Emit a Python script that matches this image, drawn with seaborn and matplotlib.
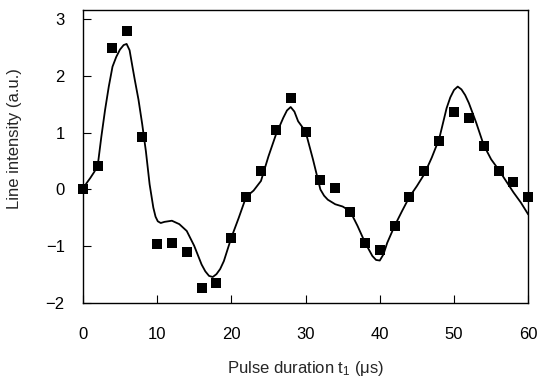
import numpy as np
import pandas as pd
import matplotlib
matplotlib.use('Agg')
import matplotlib.pyplot as plt
import seaborn as sns

# measured points (squares)
pulse_t = [0, 2, 4, 6, 8, 10, 12, 14, 16, 18, 20, 22, 24, 26, 28, 30,
           32, 34, 36, 38, 40, 42, 44, 46, 48, 50, 52, 54, 56, 58, 60]
intensity = [0.0, 0.41, 2.48, 2.79, 0.92, -0.96, -0.94, -1.10, -1.74, -1.64,
             -0.85, -0.13, 0.32, 1.05, 1.61, 1.01, 0.16, 0.02, -0.39, -0.95,
             -1.07, -0.64, -0.13, 0.33, 0.85, 1.37, 1.26, 0.76, 0.33, 0.13,
             -0.13]

# fitted curve
fit_t = [0, 0.5, 1, 1.5, 2, 2.5, 3, 3.5, 4, 4.5, 5, 5.5, 5.9, 6.3, 6.7, 7,
         7.5, 8, 8.5, 9, 9.5, 9.8, 10.1, 10.5, 11, 12, 13, 14, 15, 16, 16.5,
         17, 17.5, 18, 18.5, 19, 20, 21, 22, 23, 24, 25, 26, 27, 27.5, 28,
         28.5, 29, 30, 31, 32, 32.5, 33, 34, 35, 36, 37, 38, 39, 39.5, 40,
         40.5, 41, 42, 43, 44, 45, 46, 47, 48, 49, 49.5, 50, 50.5, 51, 51.5,
         52, 53, 54, 55, 56, 57, 58, 59, 60]
fit_y = [0.0, 0.11, 0.2, 0.3, 0.41, 0.93, 1.40, 1.81, 2.16, 2.33, 2.46, 2.54,
         2.56, 2.45, 2.15, 1.93, 1.58, 1.15, 0.67, 0.09, -0.32, -0.48, -0.56,
         -0.59, -0.57, -0.55, -0.61, -0.73, -0.99, -1.32, -1.44, -1.52, -1.54,
         -1.49, -1.40, -1.26, -0.85, -0.50, -0.13, -0.02, 0.15, 0.58, 0.96,
         1.26, 1.39, 1.45, 1.37, 1.20, 1.02, 0.53, 0.0, -0.11, -0.18, -0.26,
         -0.30, -0.38, -0.64, -0.93, -1.17, -1.24, -1.25, -1.14, -0.94, -0.64,
         -0.38, -0.13, 0.06, 0.27, 0.56, 0.89, 1.43, 1.62, 1.75, 1.81, 1.76,
         1.66, 1.52, 1.17, 0.78, 0.53, 0.35, 0.15, -0.05, -0.23, -0.44]

sns.set_style('ticks')
plt.rcParams['font.family'] = ['Liberation Sans', 'DejaVu Sans']
plt.rcParams['mathtext.default'] = 'regular'
plt.rcParams['font.size'] = 12

fig = plt.figure(figsize=(5.52, 3.78), dpi=100)
ax = fig.add_axes([0.150, 0.198, 0.807, 0.776])

sns.lineplot(x=fit_t, y=fit_y, color='black', linewidth=1.3, ax=ax)
sns.scatterplot(x=pulse_t, y=intensity, marker='s', s=60, color='black',
                edgecolor='black', linewidth=0, ax=ax, zorder=3, clip_on=False)

ax.set_xlim(0, 60)
ax.set_ylim(-2, 3.16)
ax.set_xticks([0, 10, 20, 30, 40, 50, 60])
ax.set_yticks([-2, -1, 0, 1, 2, 3])
ax.tick_params(direction='in', length=6, width=0.8, colors='black',
               labelsize=12)
ax.tick_params(axis='x', pad=17)
ax.tick_params(axis='y', pad=13)
for sp in ax.spines.values():
    sp.set_visible(True)
    sp.set_color('black')
    sp.set_linewidth(1.0)

ax.set_xlabel('Pulse duration t$_1$ (\u03bcs)', fontsize=12)
ax.set_ylabel('Line intensity (a.u.)', fontsize=12)
ax.xaxis.set_label_coords(0.5, -0.19)
ax.yaxis.set_label_coords(-0.137, 0.56)

fig.savefig('out.png', dpi=100)
